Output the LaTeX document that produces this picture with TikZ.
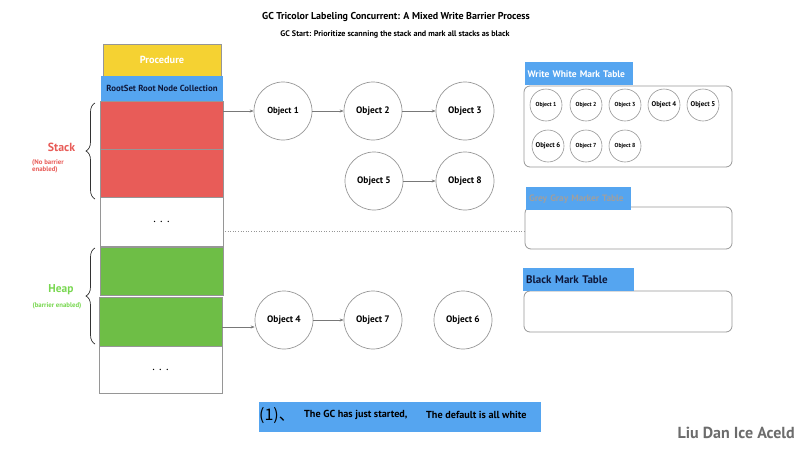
\documentclass[tikz,border=0pt]{standalone}
\usepackage{fontspec}
\setmainfont{PT Sans}
\newfontfamily\cjkf{Noto Sans CJK SC}
\usetikzlibrary{arrows.meta,decorations.pathreplacing}
\definecolor{procY}{RGB}{245,210,50}
\definecolor{lblue}{RGB}{85,165,240}
\definecolor{sred}{RGB}{232,92,88}
\definecolor{hgreen}{RGB}{110,190,70}
\definecolor{navy}{RGB}{15,25,60}
\definecolor{edge}{RGB}{150,150,150}
\definecolor{lgreen}{RGB}{120,215,80}
\tikzset{
  cell/.style={draw=edge, line width=0.8pt, minimum width=123pt, minimum height=49pt, inner sep=0pt},
  obj/.style={circle, draw=edge, line width=0.7pt, minimum size=58pt, inner sep=0pt, font=\bfseries\fontsize{9.4}{10}\selectfont},
  sobj/.style={circle, draw=edge, line width=0.6pt, minimum size=32pt, inner sep=0pt, font=\bfseries\fontsize{5.8}{6}\selectfont},
  sobjb/.style={sobj, font=\bfseries\fontsize{6.9}{7}\selectfont},
  conn/.style={draw=edge!80!black, line width=0.6pt, -{Stealth[length=4pt,width=3pt]}},
  tbl/.style={draw=edge, line width=0.8pt, rounded corners=6pt, inner sep=0pt},
  tlabel/.style={fill=lblue, anchor=north west, inner sep=0pt, inner xsep=3pt, minimum height=23pt, align=left, font=\bfseries\fontsize{9.5}{10}\selectfont},
  brc/.style={decorate, decoration={brace, amplitude=9pt}, line width=0.7pt, draw=black!80}
}
\begin{document}
\begin{tikzpicture}[x=1pt,y=-1pt]
\useasboundingbox (0,0) rectangle (800,450);
% titles
\node[font=\bfseries\fontsize{10}{11}\selectfont] (title) at (396,17) {GC Tricolor Labeling Concurrent: A Mixed Write Barrier Process};
\node[font=\bfseries\fontsize{8.1}{9}\selectfont] (sub) at (395,34) {GC Start: Prioritize scanning the stack and mark all stacks as black};
% stack column
\node[cell, fill=procY, minimum width=118pt, minimum height=32pt, text=white, font=\bfseries\fontsize{10.3}{11}\selectfont] (proc) at (162,60) {Procedure};
\node[cell, draw=none, fill=lblue, minimum width=122pt, minimum height=25pt, text=navy, font=\bfseries\fontsize{8.8}{10}\selectfont] (root) at (162,88.5) {RootSet Root Node Collection};
\node[cell, fill=sred, minimum height=48pt] (s1) at (161.5,125) {};
\node[cell, fill=sred, minimum height=48pt] (s2) at (161.5,173) {};
\node[cell, fill=white, font=\fontsize{12}{12}\selectfont] (s3) at (161.5,222) {. . .};
\node[cell, fill=hgreen, minimum height=48pt] (h1) at (161.5,271) {};
\node[cell, fill=hgreen] (h2) at (160.5,321.5) {};
\node[cell, fill=white, minimum height=47pt, font=\fontsize{12}{12}\selectfont] (h3) at (160.5,369.5) {. . .};
% braces
\draw[brc] (95,199) -- (95,103);
\draw[brc] (95,344) -- (95,248);
\node[text=sred, font=\bfseries\fontsize{11.8}{12}\selectfont] (stk) at (61.5,147) {Stack};
\node[text=sred, font=\bfseries\fontsize{6.8}{7.2}\selectfont, align=left, anchor=north west, inner sep=0pt] (stkn) at (32,159) {(No barrier\\enabled)};
\node[text=lgreen, font=\bfseries\fontsize{11.4}{12}\selectfont] (hp) at (61,290) {Heap};
\node[text=lgreen, font=\bfseries\fontsize{6.8}{7}\selectfont] (hpn) at (57,305.5) {(barrier enabled)};
% objects
\node[obj, font=\bfseries\fontsize{8.8}{9}\selectfont] (o1) at (283,111) {Object 1};
\node[obj] (o2) at (373,111) {Object 2};
\node[obj] (o3) at (465,111) {Object 3};
\node[obj] (o5) at (374,181) {Object 5};
\node[obj] (o8) at (465,181) {Object 8};
\node[obj] (o4) at (284,320) {Object 4};
\node[obj] (o7) at (373,320) {Object 7};
\node[obj] (o6) at (463,320) {Object 6};
\draw[conn] (s1.east |- o1) -- (o1);
\draw[conn] (o1) -- (o2);
\draw[conn] (o2) -- (o3);
\draw[conn] (o5) -- (o8);
\draw[conn] (h2.east |- 0,327) -- (o4.west |- 0,327);
\draw[conn] (o4) -- (o7);
% dotted guide
\coordinate (d1) at (225,231);
\coordinate (d2) at (525,231);
\draw[edge, dotted, line width=0.6pt] (d1) -- (d2);
% tables
\node[tbl, minimum width=208pt, minimum height=81pt] (wt) at (628,126.5) {};
\node[tlabel, text=white, text width=102pt] (wl) at (524.5,62) {Write White Mark Table};
\node[sobj] (w1) at (546,105) {Object 1};
\node[sobj] (w2) at (586,105) {Object 2};
\node[sobj] (w3) at (625,105) {Object 3};
\node[sobjb] (w4) at (664,105) {Object 4};
\node[sobjb] (w5) at (703,105) {Object 5};
\node[sobjb] (w6) at (548,146) {Object 6};
\node[sobj] (w7) at (586,146) {Object 7};
\node[sobj] (w8) at (625,146) {Object 8};
\node[tbl, minimum width=207pt, minimum height=42pt] (gt) at (628.5,228) {};
\node[tlabel, text=gray!75, text width=99pt, font=\bfseries\fontsize{9.3}{10}\selectfont] (gl) at (526,187) {Grey Gray Marker Table};
\node[tbl, minimum width=208pt, minimum height=41pt] (bt) at (628,311.5) {};
\node[tlabel, text=navy, text width=105pt, font=\bfseries\fontsize{11}{12}\selectfont] (bl) at (523,268) {Black Mark Table};
% banner
\node[fill=lblue, minimum width=282pt, minimum height=30pt, inner sep=0pt] (ban) at (400,417) {};
\node[anchor=west, inner sep=0pt, font=\cjkf\fontsize{16}{17}\selectfont] (b1) at (259,416) {(1)、};
\node[anchor=west, inner sep=0pt, font=\bfseries\fontsize{10.2}{11}\selectfont] (b2) at (304,415) {The GC has just started,};
\node[anchor=west, inner sep=0pt, font=\bfseries\fontsize{10.2}{11}\selectfont] (b3) at (426,415) {The default is all white};
% signature
\node[anchor=east, inner sep=0pt, text=gray!85!black, font=\bfseries\fontsize{16}{17}\selectfont] (sig) at (795,433) {Liu Dan Ice Aceld};
\end{tikzpicture}
\end{document}
